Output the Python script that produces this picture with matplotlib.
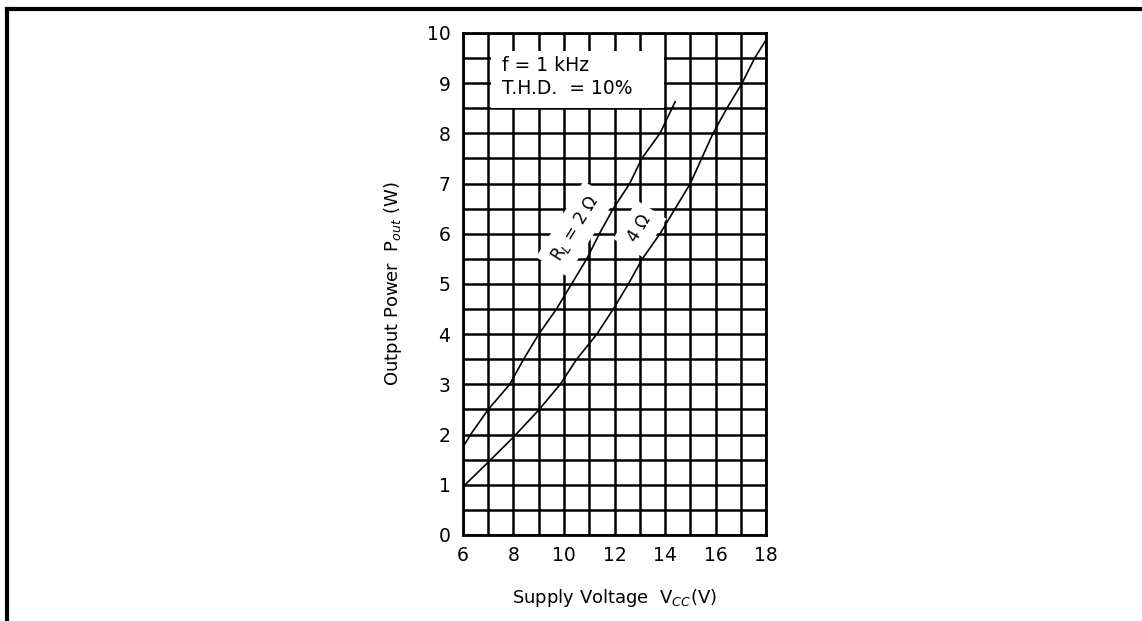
import numpy as np
import matplotlib
matplotlib.use('Agg')
import matplotlib.pyplot as plt
from matplotlib.patches import Rectangle
from matplotlib.lines import Line2D

# curve: RL = 2 ohm
v_2ohm = [6.0, 6.3, 7.0, 7.85, 8.4, 9.0, 9.7, 10.3, 10.9, 11.4, 11.95, 12.6, 13.08, 13.8, 14.4]
p_2ohm = [1.75, 2.0, 2.5, 3.0, 3.5, 4.0, 4.5, 5.0, 5.5, 6.0, 6.5, 7.0, 7.5, 8.0, 8.63]

# RL = 4 ohm
v_4ohm = [6.0, 7.0, 8.0, 9.0, 9.85, 10.5, 11.3, 11.95, 12.55, 13.1, 13.8, 14.4, 15.0, 15.45, 15.9, 16.45, 17.05, 17.55, 17.96]
p_4ohm = [0.96, 1.45, 1.95, 2.49, 3.0, 3.5, 4.0, 4.5, 5.0, 5.5, 6.0, 6.5, 7.0, 7.5, 8.0, 8.5, 9.0, 9.5, 9.83]

x_ticks = [6, 8, 10, 12, 14, 16, 18]
y_ticks = [0, 1, 2, 3, 4, 5, 6, 7, 8, 9, 10]

plt.rcParams['font.family'] = ['DejaVu Sans']

fig = plt.figure(figsize=(11.42, 6.21), dpi=100)
ax = fig.add_axes([0.4054, 0.1385, 0.2654, 0.8084])

ax.set_xlim(6, 18)
ax.set_ylim(0, 10)
ax.set_xticks(x_ticks)
ax.set_yticks(y_ticks)
ax.set_xticks(np.arange(6, 18.5, 1), minor=True)
ax.set_yticks(np.arange(0, 10.25, 0.5), minor=True)
ax.tick_params(which='both', length=0, labelsize=13.5)
ax.tick_params(axis='x', pad=8)
ax.tick_params(axis='y', pad=9)
ax.set_axisbelow(True)
ax.grid(which='both', color='black', linewidth=1.8)
for s in ax.spines.values():
    s.set_linewidth(2)

ax.plot(v_2ohm, p_2ohm, color='black', linewidth=1.2, zorder=5)
ax.plot(v_4ohm, p_4ohm, color='black', linewidth=1.2, zorder=5)

# white box behind the conditions
ax.add_patch(Rectangle((7.1, 8.5), 6.85, 1.15, facecolor='white', edgecolor='none', zorder=3))
ax.text(7.55, 9.35, 'f = 1 kHz', fontsize=13.5, va='center', zorder=4)
ax.text(7.55, 8.9, 'T.H.D.  = 10%', fontsize=13.5, va='center', zorder=4)

ax.text(10.45, 6.1, r'R$_L$ = 2 Ω', fontsize=12, rotation=58, ha='center', va='center',
        bbox=dict(facecolor='white', edgecolor='none', pad=6), zorder=3)
ax.text(13.0, 6.1, '4 Ω', fontsize=12, rotation=58, ha='center', va='center',
        bbox=dict(facecolor='white', edgecolor='none', pad=6), zorder=3)

ax.set_xlabel('Supply Voltage  V$_{CC}$(V)', fontsize=13, labelpad=16)
ax.set_ylabel('Output Power  P$_{out}$ (W)', fontsize=13, labelpad=16)

# outer frame: top and left edges only
fig.add_artist(Line2D([0.0065, 1.0], [0.9855, 0.9855], color='black', linewidth=3, transform=fig.transFigure))
fig.add_artist(Line2D([0.0065, 0.0065], [0.0, 0.9855], color='black', linewidth=3, transform=fig.transFigure))

fig.savefig('out.png', dpi=100, facecolor='white')
